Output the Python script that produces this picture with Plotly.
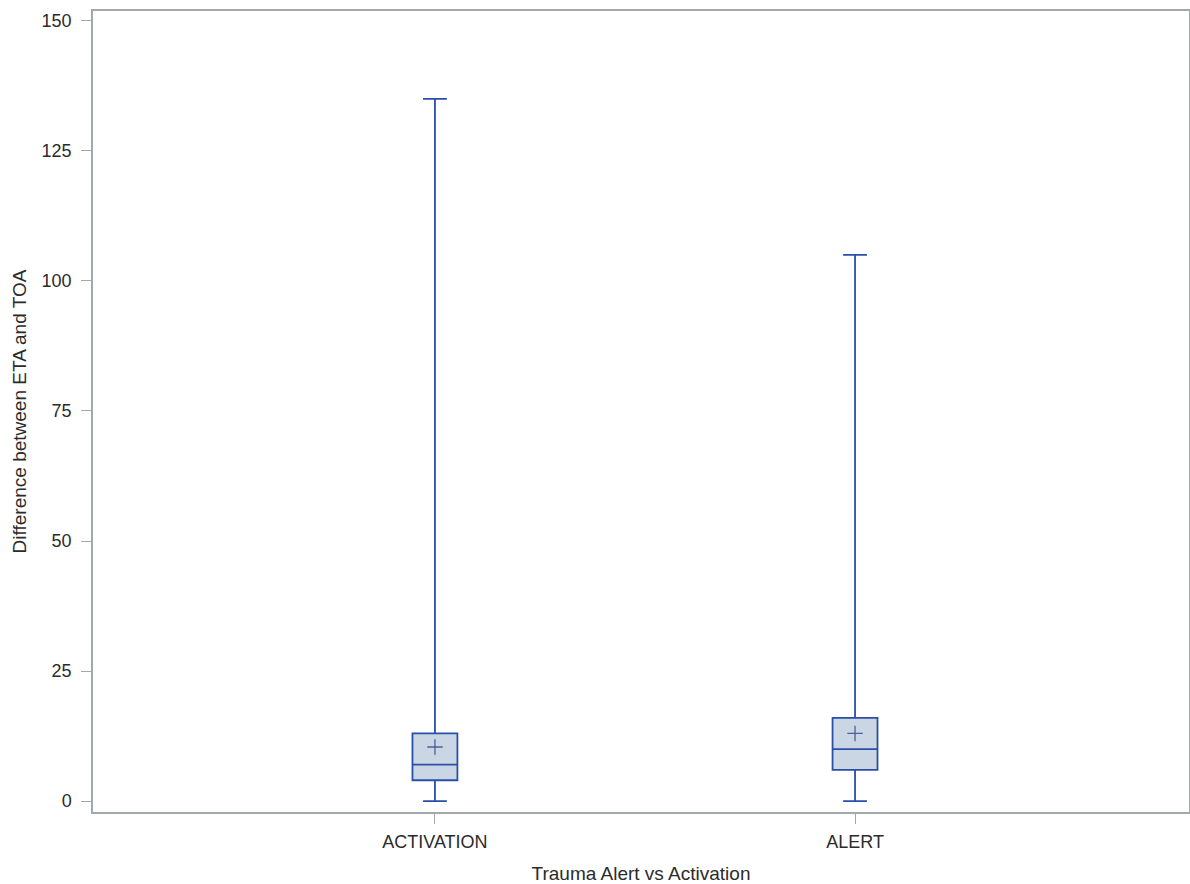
import plotly.graph_objects as go

categories = ["ACTIVATION", "ALERT"]
q1 = [4, 6]
median = [7, 10]
q3 = [13, 16]
lower = [0, 0]
upper = [135, 105]
mean = [10.4, 13]
y_ticks = [0, 25, 50, 75, 100, 125, 150]

line_col = "#2a4fa8"
fill_col = "rgba(203,214,229,1)"

fig = go.Figure()
fig.add_trace(go.Box(
    x=categories, q1=q1, median=median, q3=q3,
    lowerfence=lower, upperfence=upper,
    width=0.107, whiskerwidth=0.53,
    line=dict(color=line_col, width=1.8),
    fillcolor=fill_col, boxpoints=False, showlegend=False,
    hoverinfo="skip",
))
fig.add_trace(go.Scatter(
    x=categories, y=mean, mode="markers",
    marker=dict(symbol="cross-thin", size=11, line=dict(color="#4f5f99", width=1.3)),
    showlegend=False, hoverinfo="skip",
))

axis_col = "#a3a8ad"
fig.update_layout(
    width=1190, height=884, autosize=False,
    margin=dict(l=93, r=1, t=11, b=72, autoexpand=False),
    paper_bgcolor="white", plot_bgcolor="white",
    font=dict(family="Liberation Sans, Arial, sans-serif", size=18, color="#2b2b2b"),
    xaxis=dict(
        range=[-0.814, 1.795], showgrid=False, zeroline=False,
        showline=True, linecolor=axis_col, linewidth=1.5, mirror=True,
        ticks="outside", ticklen=10, tickcolor=axis_col,
        ticklabelstandoff=3,
        title=dict(text="Trauma Alert vs Activation", standoff=16, font=dict(size=19)),
        tickfont=dict(size=18),
    ),
    yaxis=dict(
        range=[-2.1, 151.9], showgrid=False, zeroline=False,
        showline=True, linecolor=axis_col, linewidth=1.5, mirror=True,
        ticks="outside", ticklen=10, tickcolor=axis_col,
        ticklabelstandoff=6,
        tickvals=y_ticks,
        title=dict(text="Difference between ETA and TOA", standoff=10, font=dict(size=19)),
        tickfont=dict(size=18),
    ),
)
fig.write_html(
    "out.html",
    config={"responsive": False, "displayModeBar": False},
    post_script="document.body.style.margin='0px';document.body.style.overflow='hidden';",
)
